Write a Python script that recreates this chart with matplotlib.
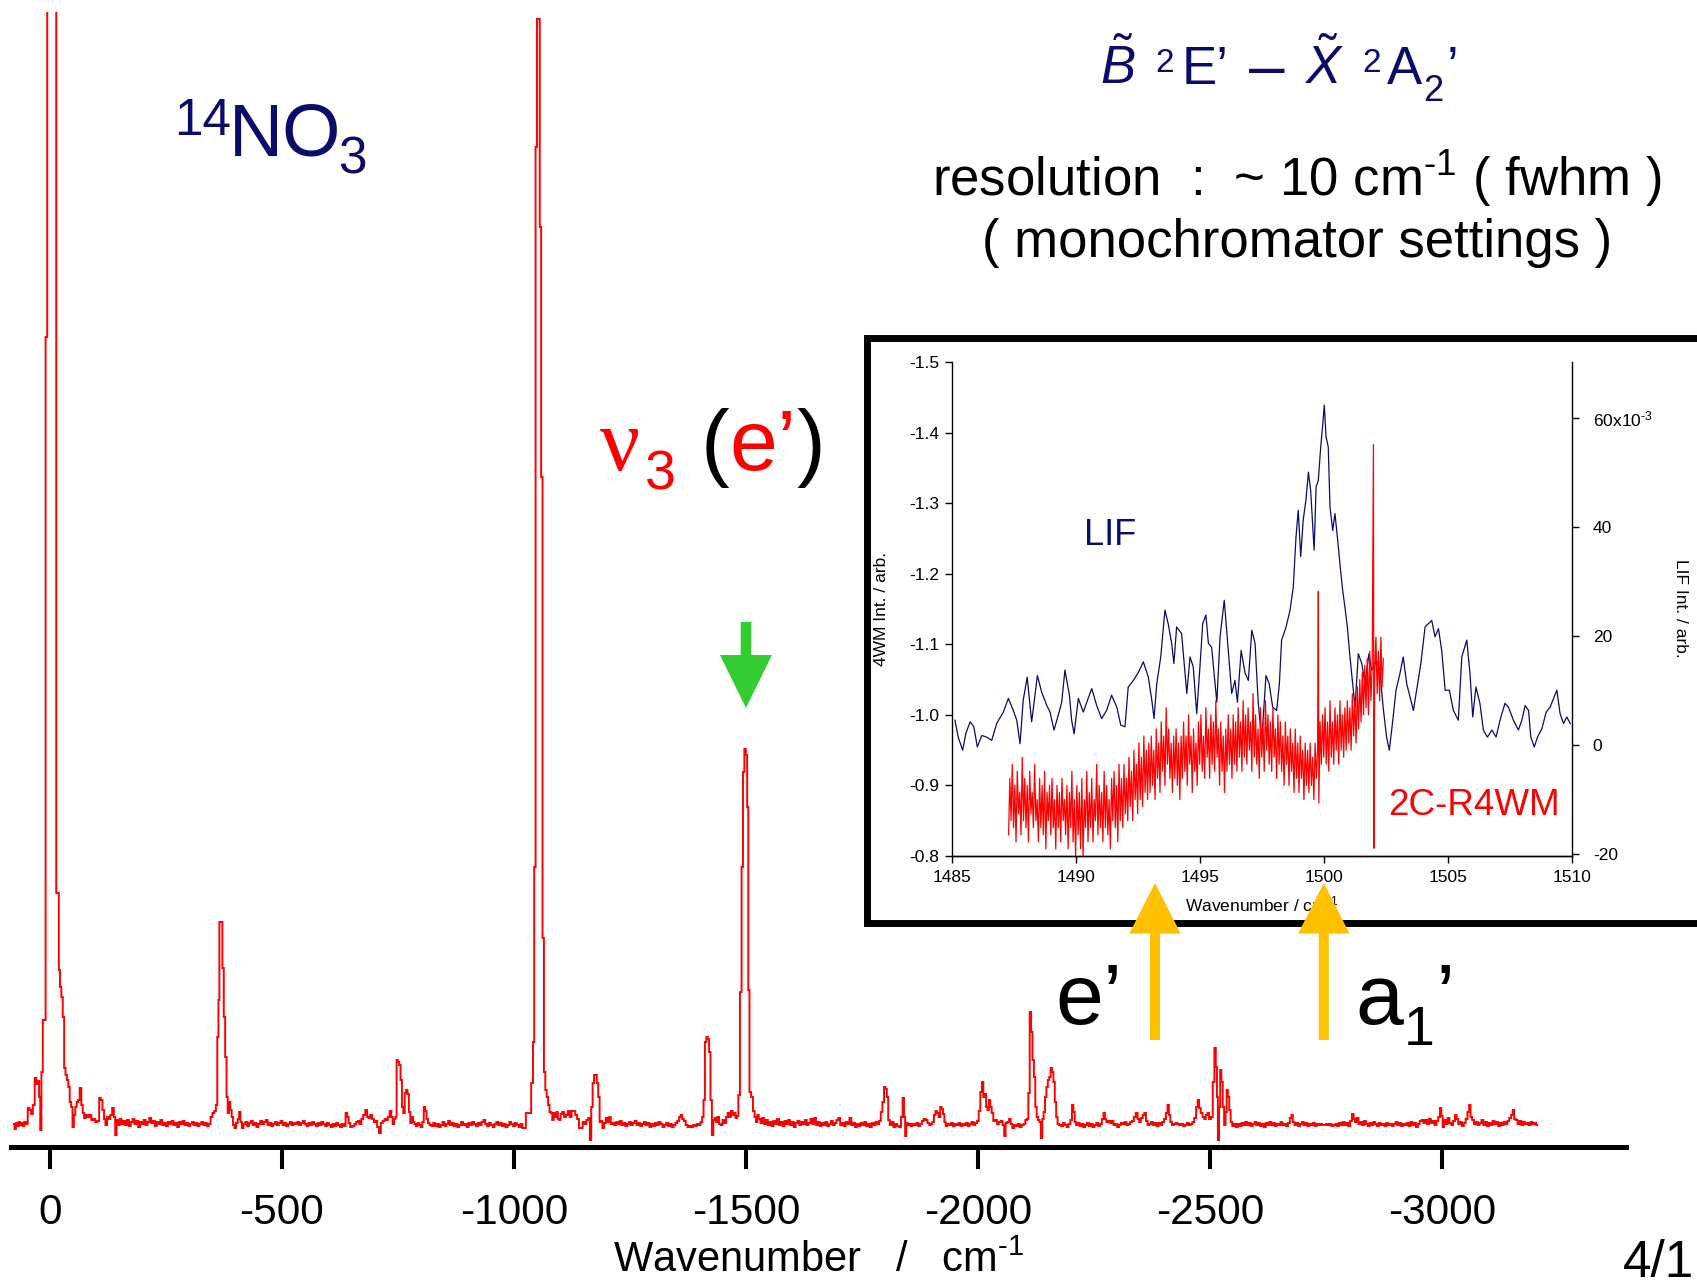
import numpy as np
import matplotlib
matplotlib.use("Agg")
import matplotlib.pyplot as plt
from matplotlib.patches import FancyArrow, Rectangle

plt.rcParams['font.family'] = ['Liberation Sans', 'DejaVu Sans']
plt.rcParams['mathtext.fontset'] = 'custom'
plt.rcParams['mathtext.rm'] = 'Liberation Sans'
plt.rcParams['mathtext.it'] = 'Liberation Sans:italic'
plt.rcParams['mathtext.bf'] = 'Liberation Sans:bold'
plt.rcParams['axes.unicode_minus'] = False

# ---------------- main spectrum (wavenumber, intensity arb.) -------------
main_seg_a = [(78,0.03),(75,-0.02),(72,0.04),(69,0.01),(66,0.05),(63,0.02),(60,0.04),(57,0.01),(54,0.05),(50,0.03),
 (46,0.19),(42,0.17),(39,0.13),(35,0.22),(31,0.49),(28,0.43),(25,0.46),(22,0.30),(20,-0.03),(17,0.55),(14,1.07),
 (11,1.07),(8,7.9),(4,13.0),(-4,13.0),(-12,13.0),(-15,2.34),(-18,2.34),(-20,1.57),(-23,1.40),(-26,1.30),(-29,1.10),
 (-32,0.59),(-35,0.52),(-38,0.47),(-41,0.40),(-44,0.25),(-47,0.20),(-50,0.00),(-53,0.12),(-56,0.20),(-59,0.25),
 (-62,0.27),(-66,0.39),(-69,0.22),(-72,0.14),(-75,0.09),(-79,0.12),(-83,0.10),(-87,0.12),(-91,0.07),(-95,0.08),
 (-100,0.05),(-104,0.06),(-108,0.29),(-111,0.27),(-115,0.17),(-118,0.08),(-121,0.02),(-125,0.10),(-128,0.08),
 (-132,0.12),(-136,0.19),(-139,0.10),(-142,-0.08),(-145,0.07),(-148,0.02),(-152,0.08),(-156,0.03),(-160,0.06)]
main_seg_b = [(-164,0.02),(-168,0.07),(-172,0.01),(-176,0.05),(-180,0.08),(-184,0.03),(-188,0.06),(-192,0.00),
 (-196,0.05),(-200,0.03),(-204,0.07),(-208,0.02),(-212,0.05),(-216,0.09),(-220,0.04),(-224,0.06),(-228,0.01),
 (-232,0.05),(-236,0.03),(-240,0.07),(-244,0.02),(-248,0.04),(-252,0.01),(-256,0.05),(-260,0.03),(-264,0.06),
 (-268,0.02),(-272,0.04),(-276,0.00),(-280,0.05),(-284,0.03),(-288,0.06),(-292,0.02),(-296,0.04),(-300,0.01),
 (-304,0.03),(-308,0.05),(-312,0.02),(-316,0.04),(-320,0.01),(-324,0.03),(-328,0.05),(-332,0.02),(-336,0.04),
 (-340,0.01),(-344,0.03)]
main_seg_c = [(-348,0.10),(-352,0.14),(-356,0.16),(-359,0.22),(-362,0.90),(-364,1.27),(-366,2.05),(-370,2.05),
 (-373,1.59),(-376,1.10),(-379,0.70),(-382,0.30),(-384,0.14),(-387,0.25),(-390,0.17),(-393,0.10),(-396,0.02),
 (-399,-0.01),(-403,0.04),(-406,0.08),(-409,0.15),(-412,0.05),(-415,-0.01),(-419,0.03)]
main_seg_d = [(-423,0.05),(-427,0.01),(-431,0.04),(-435,0.06),(-439,0.02),(-443,0.04),(-447,0.00),(-451,0.03),
 (-455,0.06),(-459,0.03),(-463,0.05),(-467,0.07),(-471,0.02),(-475,0.04),(-479,0.01),(-483,0.03),(-487,0.05),
 (-491,0.02),(-495,0.04),(-499,0.06),(-503,0.02),(-507,0.04),(-511,0.01),(-515,0.03),(-519,0.05),(-523,0.02),
 (-527,0.04),(-531,0.03),(-535,0.05),(-539,0.02),(-543,0.04),(-547,0.06),(-551,0.03),(-555,0.01),(-559,0.04),
 (-563,0.02),(-567,0.05),(-571,0.03),(-575,0.01),(-579,0.04),(-583,0.02),(-587,0.05),(-591,0.03),(-595,0.01),
 (-599,0.04),(-603,0.02),(-607,0.00),(-611,0.03),(-615,0.01),(-619,0.04),(-623,0.02),(-627,0.00),(-631,0.03),
 (-635,0.01)]
main_seg_e = [(-639,0.14),(-642,0.10),(-645,0.04),(-649,0.00),(-654,0.01),(-658,0.03),(-662,0.05),(-665,0.06),
 (-669,0.03),(-673,0.08),(-677,0.12),(-682,0.17),(-685,0.10),(-688,0.09),(-692,0.12),(-696,0.08),(-700,0.05),
 (-703,0.06),(-707,0.00),(-711,-0.06),(-715,0.04),(-719,0.06),(-723,0.08),(-726,0.07),(-730,0.10),(-734,0.16),
 (-737,0.10),(-740,0.03),(-743,0.08),(-746,0.10),(-748,0.67),(-751,0.65),(-754,0.62),(-757,0.47),(-760,0.20),
 (-763,0.14),(-766,0.34),(-769,0.37),(-772,0.33),(-775,0.15),(-778,0.04),(-781,0.10),(-784,0.05),(-787,0.03),
 (-790,0.01),(-794,0.04),(-798,0.02),(-801,0.00),(-804,0.05),(-807,0.20),(-810,0.16),(-813,0.08),(-816,0.04),
 (-820,0.02),(-824,0.01)]
main_seg_f = [(-828,0.04),(-832,0.01),(-836,0.03),(-840,0.00),(-844,0.02),(-848,0.05),(-852,0.01),(-856,0.03),
 (-860,0.06),(-864,0.02),(-868,0.04),(-872,0.01),(-876,0.03),(-880,0.00),(-884,0.02),(-888,0.05),(-892,0.02),
 (-896,0.03),(-900,0.00),(-904,0.04),(-908,0.02),(-912,0.05),(-916,0.03),(-920,0.01),(-924,0.04),(-928,0.02),
 (-932,0.05),(-936,0.07),(-940,0.03),(-944,0.01),(-948,0.04),(-952,0.02),(-956,0.00),(-960,0.03),(-964,0.05),
 (-968,0.02),(-972,0.04),(-976,0.01),(-980,0.03),(-984,0.00),(-988,0.02),(-992,0.05),(-996,0.03),(-1000,0.01),
 (-1004,0.04),(-1008,0.02),(-1012,0.00),(-1016,0.03),(-1020,-0.01),(-1024,-0.01)]
main_seg_g = [(-1027,0.14),(-1031,0.14),(-1036,0.14),(-1038,0.44),(-1040,0.44),(-1042,0.85),(-1045,2.6),
 (-1048,9.8),(-1051,11.08),(-1054,11.08),(-1057,9.0),(-1060,6.5),(-1063,1.89),(-1066,0.55),(-1069,0.37),
 (-1072,0.30),(-1075,0.22),(-1078,0.15),(-1081,0.14),(-1084,0.07),(-1087,0.14),(-1090,0.10),(-1093,0.15),
 (-1096,0.08),(-1099,0.07),(-1102,0.13),(-1106,0.15),(-1110,0.10),(-1114,0.12),(-1118,0.16),(-1122,0.10),
 (-1126,0.16),(-1130,0.16),(-1134,0.12),(-1138,0.08),(-1142,-0.01),(-1146,-0.01),(-1150,0.05),(-1154,0.03),
 (-1158,0.07),(-1162,0.09),(-1165,-0.13),(-1168,0.20),(-1171,0.44),(-1174,0.52),(-1177,0.52),(-1180,0.44),
 (-1183,0.30),(-1186,0.05),(-1189,0.06),(-1192,-0.01),(-1196,0.04),(-1200,0.09),(-1204,0.05),(-1207,0.10),
 (-1210,0.03)]
main_seg_h = [(-1214,0.04),(-1218,0.02),(-1222,0.05),(-1226,0.03),(-1230,0.06),(-1234,0.02),(-1238,0.04),
 (-1242,0.01),(-1246,0.03),(-1250,0.05),(-1254,0.02),(-1258,0.04),(-1262,0.06),(-1266,0.02),(-1270,0.04),
 (-1274,0.01),(-1278,0.03),(-1282,0.05),(-1286,0.02),(-1290,0.04),(-1294,0.00),(-1298,0.03),(-1302,0.01),
 (-1306,0.04),(-1310,0.02),(-1314,0.05),(-1318,0.03),(-1322,0.00),(-1326,0.02),(-1330,0.04),(-1334,0.01),
 (-1338,0.03),(-1342,0.00),(-1346,0.02),(-1350,0.04),(-1354,0.06),(-1358,0.10),(-1361,0.12),(-1364,0.08),
 (-1368,0.06),(-1372,0.02),(-1376,0.00),(-1380,0.01),(-1384,0.00),(-1388,0.02),(-1392,0.01),(-1396,0.03),
 (-1400,0.02),(-1404,0.05)]
main_seg_i = [(-1407,0.10),(-1410,0.27),(-1413,0.85),(-1416,0.90),(-1419,0.88),(-1422,0.75),(-1425,0.27),
 (-1428,-0.08),(-1431,0.07),(-1434,0.09),(-1437,0.05),(-1440,0.10),(-1444,0.03),(-1448,0.02),(-1451,0.07),
 (-1455,0.04),(-1459,0.10),(-1462,0.14),(-1466,0.10),(-1469,0.16),(-1473,0.12),(-1476,0.14),(-1479,0.09),
 (-1482,0.11),(-1485,0.32),(-1489,1.35),(-1492,2.6),(-1495,3.55),(-1498,3.78),(-1501,3.72),(-1504,3.2),
 (-1506,1.37),(-1509,0.35),(-1513,0.30),(-1517,0.16),(-1520,0.10),(-1523,0.05),(-1526,0.12),(-1529,0.08),
 (-1533,0.04)]
main_seg_j = [(-1537,0.09),(-1541,0.03),(-1545,0.07),(-1549,0.02),(-1553,0.05),(-1557,0.01),(-1561,0.06),
 (-1565,0.03),(-1569,0.08),(-1573,0.02),(-1577,0.05),(-1581,0.01),(-1585,0.06),(-1589,0.03),(-1593,0.07),
 (-1597,0.02),(-1601,0.05),(-1605,0.00),(-1609,0.04),(-1613,0.06),(-1617,0.02),(-1621,0.05),(-1625,0.03),
 (-1629,0.07),(-1633,0.02),(-1637,0.04),(-1641,0.08),(-1645,0.03),(-1649,0.09),(-1653,0.02),(-1657,0.05),
 (-1661,0.01),(-1665,0.04),(-1669,0.02),(-1673,0.05),(-1677,0.01),(-1681,0.03),(-1685,0.06),(-1689,0.02),
 (-1693,0.04),(-1697,0.07),(-1701,0.09),(-1705,0.02),(-1709,0.04),(-1713,0.01),(-1717,0.05),(-1721,0.03),
 (-1725,0.09),(-1729,0.02),(-1733,0.04),(-1737,0.00),(-1741,0.03),(-1745,0.01),(-1749,0.04),(-1753,0.02),
 (-1757,0.05),(-1761,0.01),(-1765,0.03),(-1769,0.00),(-1773,0.04),(-1777,0.02),(-1781,0.05),(-1785,0.03),
 (-1789,0.06)]
main_seg_k = [(-1792,0.15),(-1796,0.25),(-1799,0.40),(-1802,0.38),(-1805,0.30),(-1808,0.07),(-1812,0.02),
 (-1816,0.05),(-1820,0.00),(-1824,0.03),(-1828,0.01),(-1832,0.00),(-1836,0.10),(-1839,0.29),(-1842,0.10),
 (-1844,-0.09),(-1847,0.04),(-1850,0.02),(-1853,0.03),(-1857,0.01),(-1861,0.03),(-1865,0.02),(-1869,0.04),
 (-1873,0.01),(-1877,0.03),(-1881,0.06),(-1885,0.08),(-1889,0.07),(-1893,0.04),(-1897,0.02),(-1900,0.03),
 (-1903,0.05),(-1907,0.12),(-1910,0.16),(-1913,0.14),(-1917,0.10),(-1920,0.20),(-1923,0.18),(-1926,0.13),
 (-1929,0.05),(-1932,0.01),(-1936,0.03),(-1940,0.02),(-1944,0.04),(-1948,0.01),(-1952,0.03),(-1956,0.02),
 (-1960,0.04),(-1964,0.01),(-1968,0.03),(-1972,0.02),(-1976,0.04),(-1980,0.01),(-1984,0.03),(-1988,0.05),
 (-1992,0.02),(-1996,0.04),(-2000,0.06),(-2003,0.16),(-2007,0.35),(-2010,0.45),(-2013,0.30),(-2016,0.33),
 (-2019,0.20),(-2022,0.17),(-2025,0.27),(-2028,0.20),(-2031,0.14),(-2035,0.06),(-2039,0.07),(-2043,0.03),
 (-2047,0.05),(-2051,0.06),(-2055,0.02),(-2058,-0.09),(-2061,0.04),(-2065,0.05),(-2069,0.08),(-2072,0.03),
 (-2076,-0.01),(-2080,0.02),(-2084,0.01),(-2088,0.03),(-2092,0.00),(-2096,0.02),(-2100,0.03),(-2104,0.07),
 (-2107,0.08),(-2110,0.34),(-2113,1.15),(-2116,0.95),(-2119,0.67),(-2122,0.50),(-2125,0.20),(-2128,0.10),
 (-2131,0.07),(-2134,0.05),(-2137,-0.11),(-2140,0.08),(-2143,0.15),(-2146,0.30),(-2149,0.40),(-2152,0.47),
 (-2155,0.50),(-2158,0.59),(-2161,0.55),(-2164,0.45),(-2167,0.25),(-2170,0.10),(-2173,0.03),(-2177,0.02),
 (-2181,0.01),(-2185,0.04),(-2189,0.02),(-2193,0.00),(-2197,0.03),(-2201,0.07),(-2204,0.22),(-2207,0.15),
 (-2210,0.05),(-2213,0.02),(-2217,0.04),(-2221,0.01),(-2225,0.03),(-2229,0.00),(-2233,0.02),(-2237,0.04),
 (-2241,0.01),(-2245,0.03),(-2249,0.00)]
main_seg_l = [(-2253,0.02),(-2257,0.04),(-2261,0.01),(-2265,0.03),(-2269,0.08),(-2272,0.14),(-2275,0.08),
 (-2278,0.05),(-2282,0.06),(-2286,0.04),(-2290,0.06),(-2294,0.02),(-2298,0.03),(-2302,0.00),(-2306,0.02),
 (-2310,0.04),(-2314,0.03),(-2318,0.05),(-2322,0.02),(-2326,0.03),(-2330,0.05),(-2334,0.06),(-2338,0.10),
 (-2342,0.14),(-2346,0.08),(-2349,0.05),(-2353,0.09),(-2357,0.12),(-2360,0.14),(-2364,0.06),(-2367,0.02),
 (-2371,0.03),(-2375,0.05),(-2379,0.02),(-2383,0.04),(-2387,0.01),(-2391,0.04),(-2395,0.02),(-2399,0.05),
 (-2403,0.08),(-2407,0.14),(-2410,0.22),(-2413,0.12),(-2416,0.05),(-2420,0.02),(-2424,0.03),(-2428,0.04),
 (-2432,0.03),(-2436,0.02),(-2440,0.03),(-2444,0.01),(-2448,0.02),(-2452,0.04),(-2456,0.02),(-2460,0.03),
 (-2464,0.05),(-2468,0.09),(-2472,0.20),(-2475,0.27),(-2478,0.19),(-2482,0.14),(-2486,0.10),(-2489,0.08),
 (-2493,0.12),(-2496,0.14),(-2500,0.08),(-2504,0.10),(-2508,0.45),(-2511,0.79),(-2514,0.60),(-2516,0.30),
 (-2518,-0.13),(-2521,0.20),(-2523,0.57),(-2526,0.45),(-2529,0.20),(-2532,0.02),(-2535,0.15),(-2537,0.37),
 (-2540,0.30),(-2543,0.17),(-2546,0.05),(-2550,0.01),(-2554,0.03),(-2558,0.00)]
main_seg_m = [(-2562,0.03),(-2566,0.01),(-2570,0.04),(-2574,0.02),(-2578,0.05),(-2582,0.02),(-2586,0.04),
 (-2590,0.01),(-2594,0.03),(-2598,0.05),(-2602,0.02),(-2606,0.04),(-2610,0.01),(-2614,0.03),(-2618,0.00),
 (-2622,0.04),(-2626,0.02),(-2630,0.05),(-2634,0.02),(-2638,0.04),(-2642,0.01),(-2646,0.03),(-2650,0.02),
 (-2654,0.05),(-2658,0.02),(-2662,0.03),(-2666,0.01),(-2670,0.04),(-2674,0.09),(-2677,0.12),(-2680,0.05),
 (-2684,0.02),(-2688,0.04),(-2692,0.01),(-2696,0.03),(-2700,0.05),(-2704,0.02),(-2708,0.04),(-2712,0.01),
 (-2716,0.03),(-2720,0.02),(-2724,0.04),(-2728,0.01),(-2732,0.03),(-2736,0.02),(-2740,0.03),(-2744,0.02),
 (-2748,0.02),(-2752,0.03),(-2756,0.02),(-2760,0.03),(-2764,0.01),(-2768,0.02),(-2772,0.03),(-2776,0.01),
 (-2780,0.04),(-2784,0.02),(-2788,0.05),(-2792,0.02),(-2796,0.04),(-2800,0.01),(-2804,0.06),(-2808,0.13),
 (-2811,0.08),(-2814,0.05),(-2818,0.09),(-2822,0.03),(-2826,0.05),(-2830,0.02),(-2834,0.06),(-2838,0.03),
 (-2842,0.01),(-2846,0.04),(-2850,0.02),(-2854,0.05),(-2858,0.03),(-2862,0.01),(-2866,0.04),(-2870,0.02),
 (-2874,0.03),(-2878,0.01),(-2882,0.04),(-2886,0.02),(-2890,0.03),(-2894,0.01),(-2898,0.03),(-2902,0.05),
 (-2906,0.02),(-2910,0.04),(-2914,0.01),(-2918,0.03),(-2922,0.02),(-2926,0.04),(-2930,0.01),(-2934,0.05),
 (-2938,0.02),(-2942,0.04),(-2946,0.00),(-2950,0.03),(-2954,0.06),(-2958,0.07),(-2962,0.04),(-2966,0.07),
 (-2970,0.03),(-2974,0.08),(-2978,0.04),(-2982,0.06),(-2986,0.02),(-2990,0.06),(-2994,0.10),(-2997,0.19),
 (-3000,0.11),(-3003,0.00),(-3006,0.07),(-3010,0.03),(-3014,0.09),(-3018,0.04),(-3022,0.02),(-3026,0.06),
 (-3030,0.12),(-3033,0.08),(-3037,0.03),(-3041,0.05),(-3045,0.01),(-3049,0.04),(-3053,0.08),(-3057,0.15),
 (-3060,0.22),(-3063,0.10),(-3067,0.07),(-3071,0.03),(-3075,0.05),(-3079,0.02),(-3083,0.04),(-3087,0.07),
 (-3091,0.02),(-3095,0.05),(-3099,0.01),(-3103,0.04),(-3107,0.02),(-3111,0.06),(-3115,0.03),(-3119,0.05),
 (-3123,0.01),(-3127,0.04),(-3131,0.02),(-3135,0.05),(-3139,0.03),(-3143,0.06),(-3147,0.09),(-3151,0.12),
 (-3154,0.17),(-3157,0.08),(-3161,0.07),(-3165,0.03),(-3169,0.06),(-3173,0.02),(-3177,0.05),(-3181,0.03),
 (-3185,0.04),(-3189,0.02),(-3193,0.05),(-3197,0.03),(-3201,0.04),(-3205,0.02)]

main_ticks = [0, -500, -1000, -1500, -2000, -2500, -3000]
main_tick_labels = ["0", "-500", "-1000", "-1500", "-2000", "-2500", "-3000"]

# ---------------- inset: LIF (right axis, x1e-3) ----------------
lif_seg_a = [(1485.14,4.6),(1485.27,1.5),(1485.45,-0.9),(1485.58,2.2),(1485.75,4.3),(1485.90,3.4),(1486.04,-0.3),
 (1486.22,1.8),(1486.42,1.5),(1486.62,0.9),(1486.82,4.0),(1487.09,6.1),(1487.29,8.6),(1487.49,6.4),(1487.63,4.6),
 (1487.76,0.3),(1487.89,8.3),(1488.05,12.5),(1488.23,4.3),(1488.46,12.8),(1488.63,9.8),(1488.84,7.3),(1488.97,6.1),
 (1489.13,2.8),(1489.30,5.5),(1489.44,7.9),(1489.57,13.8),(1489.75,9.2),(1489.84,4.6),(1489.94,2.1),(1490.11,8.6),
 (1490.31,6.1),(1490.45,7.9),(1490.65,10.4),(1490.85,7.3)]
lif_seg_b = [(1491.05,4.9),(1491.25,6.4),(1491.45,9.2),(1491.66,7.0),(1491.82,3.7),(1491.99,3.4),(1492.12,10.7),
 (1492.33,11.9),(1492.53,13.4),(1492.73,15.3),(1492.93,12.5),(1493.07,8.3),(1493.16,4.9),(1493.27,11.3),
 (1493.43,16.2),(1493.60,24.8),(1493.73,22.3),(1493.87,18.7),(1493.96,15.0),(1494.07,21.7),(1494.27,20.5),
 (1494.34,16.8),(1494.48,9.5),(1494.61,16.2),(1494.74,14.4),(1494.88,5.8),(1495.01,14.4),(1495.12,22.3),
 (1495.25,23.9),(1495.35,18.7),(1495.48,18.0),(1495.58,13.2),(1495.69,7.9),(1495.82,19.9),(1495.99,26.6),
 (1496.13,18.7),(1496.29,9.5),(1496.42,11.9),(1496.52,7.9),(1496.67,17.4),(1496.83,13.2),(1496.96,11.9)]
lif_seg_c = [(1497.10,21.1),(1497.23,18.7),(1497.36,7.7),(1497.50,0.9),(1497.67,12.8),(1497.80,11.3),(1497.94,7.0),
 (1498.10,6.4),(1498.21,11.3),(1498.30,19.3),(1498.48,21.7),(1498.64,24.8),(1498.77,29.0),(1498.88,38.2),
 (1498.97,43.1),(1499.07,34.6),(1499.17,41.3),(1499.28,45.0),(1499.38,50.1),(1499.47,46.8),(1499.61,35.8),
 (1499.69,47.4),(1499.78,48.6),(1499.87,54.4),(1499.96,59.0),(1500.02,62.4),(1500.09,56.6),(1500.18,54.7),
 (1500.25,43.7),(1500.36,39.4),(1500.45,42.5),(1500.56,37.6),(1500.65,33.3),(1500.76,28.4),(1500.85,25.4),
 (1500.95,21.7),(1501.03,17.4),(1501.12,13.2),(1501.26,7.0),(1501.39,16.8),(1501.53,15.0),(1501.66,11.3),
 (1501.82,16.8),(1501.93,13.8),(1502.02,14.4),(1502.12,15.6),(1502.26,13.8),(1502.39,7.0)]
lif_seg_d = [(1502.53,1.5),(1502.64,-0.9),(1502.78,4.6),(1502.91,10.1),(1503.07,13.2),(1503.20,16.2),(1503.34,11.3),
 (1503.47,8.9),(1503.61,6.4),(1503.74,10.1),(1503.91,15.0),(1504.08,21.7),(1504.21,22.3),(1504.35,22.9),
 (1504.48,19.9),(1504.62,21.4),(1504.75,17.4),(1504.89,10.1),(1505.06,10.1),(1505.22,6.4),(1505.42,4.6),
 (1505.56,16.2),(1505.76,19.3),(1505.89,13.2),(1506.00,5.2),(1506.13,10.7),(1506.29,7.7),(1506.43,2.8),
 (1506.59,1.5),(1506.77,2.8),(1506.94,1.5),(1507.10,4.6),(1507.30,7.7),(1507.44,7.0),(1507.64,4.6),(1507.84,2.8),
 (1507.98,4.6),(1508.11,7.3),(1508.25,6.4),(1508.34,1.5),(1508.48,-0.3),(1508.61,1.5),(1508.79,3.1),(1508.96,6.1),
 (1509.12,7.0),(1509.28,8.9),(1509.39,10.1),(1509.52,5.8),(1509.66,4.0),(1509.79,5.2),(1509.93,4.0)]

# ---------------- inset: 2C-R4WM (left axis) ----------------
fwm_seg_a = [(1487.30,-0.83),(1487.35,-0.91),(1487.40,-0.85),(1487.45,-0.93),(1487.50,-0.84),(1487.55,-0.90),
 (1487.60,-0.82),(1487.65,-0.92),(1487.70,-0.86),(1487.75,-0.89),(1487.80,-0.83),(1487.85,-0.94),(1487.90,-0.85),
 (1487.95,-0.91),(1488.00,-0.84),(1488.05,-0.90),(1488.10,-0.82),(1488.15,-0.92),(1488.20,-0.86),(1488.25,-0.89),
 (1488.30,-0.84),(1488.35,-0.93),(1488.40,-0.85),(1488.45,-0.88),(1488.50,-0.82),(1488.55,-0.91),(1488.60,-0.84),
 (1488.65,-0.90),(1488.70,-0.83),(1488.75,-0.92),(1488.80,-0.81),(1488.85,-0.89),(1488.90,-0.85),(1488.95,-0.90),
 (1489.00,-0.83),(1489.05,-0.91),(1489.10,-0.84),(1489.15,-0.88),(1489.20,-0.81),(1489.25,-0.90),(1489.30,-0.84),
 (1489.35,-0.89),(1489.40,-0.82),(1489.45,-0.91),(1489.50,-0.85),(1489.55,-0.88),(1489.60,-0.83),(1489.65,-0.90),
 (1489.70,-0.81),(1489.75,-0.89),(1489.80,-0.84),(1489.85,-0.92),(1489.90,-0.82),(1489.95,-0.88),(1490.00,-0.80),
 (1490.05,-0.90),(1490.10,-0.83),(1490.15,-0.89),(1490.20,-0.81),(1490.25,-0.91),(1490.30,-0.80),(1490.35,-0.88),
 (1490.40,-0.84),(1490.45,-0.92),(1490.50,-0.82),(1490.55,-0.89),(1490.60,-0.84),(1490.65,-0.91),(1490.70,-0.82),
 (1490.75,-0.88),(1490.80,-0.85),(1490.85,-0.93),(1490.90,-0.83),(1490.95,-0.90),(1491.00,-0.84),(1491.05,-0.89),
 (1491.10,-0.82),(1491.15,-0.92),(1491.20,-0.84),(1491.25,-0.90),(1491.30,-0.83),(1491.35,-0.88),(1491.40,-0.81),
 (1491.45,-0.91),(1491.50,-0.85),(1491.55,-0.92),(1491.60,-0.84),(1491.65,-0.90),(1491.70,-0.82),(1491.75,-0.93),
 (1491.80,-0.85)]
fwm_seg_b = [(1491.85,-0.91),(1491.90,-0.84),(1491.95,-0.93),(1492.00,-0.86),(1492.05,-0.91),(1492.10,-0.85),
 (1492.15,-0.94),(1492.20,-0.87),(1492.25,-0.92),(1492.30,-0.85),(1492.35,-0.95),(1492.40,-0.88),(1492.45,-0.93),
 (1492.50,-0.86),(1492.55,-0.96),(1492.60,-0.88),(1492.65,-0.94),(1492.70,-0.87),(1492.75,-0.97),(1492.80,-0.89),
 (1492.85,-0.95),(1492.90,-0.88),(1492.95,-0.96),(1493.00,-0.89),(1493.05,-0.97),(1493.10,-0.90),(1493.15,-0.95),
 (1493.20,-0.88),(1493.25,-0.98),(1493.30,-0.91),(1493.35,-0.96),(1493.40,-0.89),(1493.45,-0.99),(1493.50,-0.92),
 (1493.55,-0.97),(1493.60,-0.90),(1493.65,-1.01),(1493.70,-0.93),(1493.75,-0.98),(1493.80,-0.91),(1493.85,-0.96),
 (1493.90,-0.89),(1493.95,-0.97),(1494.00,-0.91),(1494.05,-0.98),(1494.10,-0.90),(1494.15,-0.96),(1494.20,-0.88),
 (1494.25,-0.97),(1494.30,-0.91),(1494.35,-0.99),(1494.40,-0.92),(1494.45,-0.97),(1494.50,-0.90),(1494.55,-1.00),
 (1494.60,-0.93),(1494.65,-0.97),(1494.70,-0.89),(1494.75,-0.98),(1494.80,-0.92),(1494.85,-0.96),(1494.90,-0.90),
 (1494.95,-0.99),(1495.00,-0.93),(1495.05,-1.00),(1495.10,-0.92),(1495.15,-0.97),(1495.20,-0.91),(1495.25,-1.01),
 (1495.30,-0.94),(1495.35,-0.98),(1495.40,-0.91),(1495.45,-1.00),(1495.50,-0.93),(1495.55,-0.99),(1495.60,-0.92),
 (1495.65,-1.02),(1495.70,-0.94),(1495.75,-0.98),(1495.80,-0.90),(1495.85,-0.99),(1495.90,-0.92),(1495.95,-0.97),
 (1496.00,-0.89),(1496.05,-0.98),(1496.10,-0.92),(1496.15,-1.00),(1496.20,-0.93),(1496.25,-0.98),(1496.30,-0.91)]
fwm_seg_c = [(1496.35,-1.00),(1496.40,-0.93),(1496.45,-0.99),(1496.50,-0.92),(1496.55,-1.01),(1496.60,-0.94),
 (1496.65,-0.99),(1496.70,-0.92),(1496.75,-1.02),(1496.80,-0.94),(1496.85,-1.00),(1496.90,-0.93),(1496.95,-1.01),
 (1497.00,-0.95),(1497.05,-0.99),(1497.10,-0.92),(1497.15,-1.03),(1497.20,-0.94),(1497.25,-1.00),(1497.30,-0.93),
 (1497.35,-0.98),(1497.40,-0.91),(1497.45,-1.01),(1497.50,-0.94),(1497.55,-0.99),(1497.60,-0.92),(1497.65,-1.02),
 (1497.70,-0.95),(1497.75,-1.00),(1497.80,-0.93),(1497.85,-0.99),(1497.90,-0.92),(1497.95,-1.01),(1498.00,-0.94),
 (1498.05,-0.98),(1498.10,-0.91),(1498.15,-1.00),(1498.20,-0.93),(1498.25,-0.99),(1498.30,-0.92),(1498.35,-0.97),
 (1498.40,-0.90),(1498.45,-0.99),(1498.50,-0.93),(1498.55,-0.97),(1498.60,-0.90),(1498.65,-0.98),(1498.70,-0.92),
 (1498.75,-0.96),(1498.80,-0.89),(1498.85,-0.98),(1498.90,-0.91),(1498.95,-0.96),(1499.00,-0.89),(1499.05,-0.97),
 (1499.10,-0.91),(1499.15,-0.95),(1499.20,-0.88),(1499.25,-0.96),(1499.30,-0.90),(1499.35,-0.95),(1499.40,-0.89),
 (1499.45,-0.96),(1499.50,-0.90),(1499.55,-0.94),(1499.60,-0.88),(1499.65,-0.96),(1499.70,-0.91),(1499.75,-0.95),
 (1499.78,-1.175),(1499.80,-0.875)]
fwm_seg_d = [(1499.85,-0.99),(1499.90,-0.93),(1499.95,-1.00),(1500.00,-0.94),(1500.05,-1.01),(1500.10,-0.93),
 (1500.15,-0.99),(1500.20,-0.92),(1500.25,-1.02),(1500.30,-0.94),(1500.35,-0.99),(1500.40,-0.93),(1500.45,-1.01),
 (1500.50,-0.95),(1500.55,-1.00),(1500.60,-0.93),(1500.65,-1.02),(1500.70,-0.95),(1500.75,-1.00),(1500.80,-0.94),
 (1500.85,-1.01),(1500.90,-0.95),(1500.95,-1.02),(1501.00,-0.96),(1501.05,-1.01),(1501.10,-0.95),(1501.15,-1.03),
 (1501.20,-0.97),(1501.25,-1.02),(1501.30,-0.96),(1501.35,-1.04),(1501.40,-0.98),(1501.45,-1.05),(1501.50,-0.99),
 (1501.55,-1.06),(1501.60,-1.00),(1501.65,-1.07),(1501.70,-1.01),(1501.75,-1.08),(1501.80,-1.00),(1501.85,-1.09),
 (1501.90,-1.02),(1501.95,-1.07),(1502.00,-1.383),(1502.02,-0.811),(1502.05,-1.06),(1502.10,-1.11),(1502.15,-1.03),
 (1502.20,-1.09),(1502.25,-1.02),(1502.30,-1.11),(1502.35,-1.04),(1502.40,-1.08)]

inset_xticks = [1485, 1490, 1495, 1500, 1505, 1510]
inset_left_ticks = [-1.5, -1.4, -1.3, -1.2, -1.1, -1.0, -0.9, -0.8]
inset_right_ticks = [-20, 0, 20, 40, 60]
HY = "\u2010"  # typographic hyphen for superscripts
inset_right_labels = ["-20", "0", "20", "40", "60x10$^{\\mathregular{" + HY + "3}}$"]

# annotation anchor positions (data units)
nu3_wn = -1500          # main spectrum
e_prime_wn = 1493.2     # inset
a1_prime_wn = 1500.0    # inset

NAVY = '#0b0b6b'
RED = '#ff0000'

# ---------------- figure ----------------
W, H = 1697, 1280
fig = plt.figure(figsize=(W / 100, H / 100), dpi=100)


def fx(px):
    return px / W


def fy(py):
    return 1 - py / H


main = main_seg_a + main_seg_b + main_seg_c + main_seg_d + main_seg_e + main_seg_f + main_seg_g + \
    main_seg_h + main_seg_i + main_seg_j + main_seg_k + main_seg_l + main_seg_m
main_wn = np.array([p[0] for p in main], dtype=float)
main_int = np.array([p[1] for p in main], dtype=float)

ax = fig.add_axes([fx(11), fy(1147), fx(1626) - fx(11), fy(12) - fy(1147)])
ax.set_zorder(0)
ax.patch.set_visible(False)
ax.plot(main_wn, main_int, color=RED, lw=1.4, drawstyle='steps-mid', solid_joinstyle='miter')
ax.set_xlim(84.05, -3396.6)
ax.set_ylim(-0.2, 11.15)
for s in ['left', 'top', 'right']:
    ax.spines[s].set_visible(False)
ax.spines['bottom'].set_linewidth(3.6)
ax.set_yticks([])
ax.set_xticks(main_ticks)
ax.set_xticklabels(main_tick_labels)
ax.tick_params(axis='x', direction='out', length=16, width=2.9, pad=17, labelsize=30.5)

# inset frame
frame = Rectangle((fx(866.7), fy(923.3)), fx(1720) - fx(866.7), fy(338.5) - fy(923.3),
                  transform=fig.transFigure, facecolor='white', edgecolor='black', lw=5,
                  zorder=1, clip_on=False)
fig.add_artist(frame)

# inset axes
pos = [fx(951.5), fy(856), fx(1572) - fx(951.5), fy(362) - fy(856)]
axin = fig.add_axes(pos)
axr = axin.twinx()
axin.set_zorder(4)
axr.set_zorder(3)
axin.patch.set_visible(False)
axr.patch.set_visible(False)

lif = lif_seg_a + lif_seg_b + lif_seg_c + lif_seg_d
axr.plot([p[0] for p in lif], [p[1] for p in lif], color=NAVY, lw=0.9)
fwm = fwm_seg_a + fwm_seg_b + fwm_seg_c + fwm_seg_d
axin.plot([p[0] for p in fwm], [p[1] for p in fwm], color=RED, lw=0.9)

axin.set_xlim(1485, 1510)
axin.set_ylim(-0.8, -1.5)
axr.set_ylim(-20.3, 70.3)
axin.set_xticks(inset_xticks)
axin.set_xticklabels([str(v) for v in inset_xticks])
axin.set_yticks(inset_left_ticks)
axin.set_yticklabels(['%.1f' % v for v in inset_left_ticks])
axr.set_yticks(inset_right_ticks)
axr.set_yticklabels(inset_right_labels)
for a in (axin, axr):
    a.spines['top'].set_visible(False)
    for s in a.spines.values():
        s.set_linewidth(1.0)
axin.spines['right'].set_visible(False)
axr.spines['left'].set_visible(False)
axin.tick_params(axis='both', direction='out', length=5, width=1, labelsize=12.5)
axin.tick_params(axis='y', pad=4)
axin.tick_params(axis='x', pad=5)
axr.tick_params(axis='y', direction='out', length=5, width=1, labelsize=12.5, pad=10)

# overlay for texts and arrows (pixel coordinates)
ov = fig.add_axes([0, 0, 1, 1])
ov.set_zorder(10)
ov.set_xlim(0, W)
ov.set_ylim(H, 0)
ov.axis('off')
ov.patch.set_visible(False)


def T(x, y, s, size, color='black', ha='left', va='baseline', family=None, **kw):
    kws = dict(fontsize=size, color=color, ha=ha, va=va)
    if family is not None:
        kws['family'] = family
    kws.update(kw)
    return ov.text(x, y, s, **kws)


# 14NO3
T(174, 135, "14", 37, NAVY)
T(229, 156, "NO", 54, NAVY)
T(338, 173, "3", 37, NAVY)

# B~ 2E' - X~ 2A2'
T(1100, 84, r"$\tilde{B}$", 38, NAVY)
T(1155, 72, "2", 24, NAVY)
T(1182, 84, "E’", 38, NAVY)
T(1249, 87, "–", 46, NAVY)
T(1304, 84, r"$\tilde{X}$", 38, NAVY)
T(1362, 72, "2", 24, NAVY)
T(1387, 84, "A", 38, NAVY)
T(1423, 101, "2", 26, NAVY)
T(1447, 84, "’", 38, NAVY)

T(1297, 196, "resolution  :  ~ 10 cm$^{\\mathregular{" + HY + "1}}$ ( fwhm )", 38, ha='center')
T(1297, 257, "( monochromator settings )", 38, ha='center')

# nu3 (e')
T(600, 470, "ν", 64, RED, family=['Liberation Serif', 'DejaVu Serif'])
T(645, 490, "3", 40, RED)
T(701, 470, "(", 62)
T(729, 470, "e’", 62, RED)
T(796, 470, ")", 62)

# e' and a1'
T(1055, 1024, "e’", 62)
T(1355, 1024, "a", 62)
T(1404, 1045, "1", 40)
T(1436, 1024, "’", 62)

T(1623, 1277, "4/1", 37)

# axis labels
T(818, 1272, "Wavenumber   /   cm$^{\\mathregular{" + HY + "1}}$", 30, ha='center')
T(1262, 904, "Wavenumber / cm$^{\\mathregular{" + HY + "1}}$", 12.5, ha='center', va='center')
T(882, 609, "4WM Int. / arb.", 12.5, ha='center', va='center', rotation=90)
T(1681, 608, "LIF Int. / arb.", 12.5, ha='center', va='center', rotation=270)
T(1110, 545, "LIF", 26, NAVY, ha='center')
T(1388, 815, "2C-R4WM", 26.5, RED)


# arrows
def disp_x(axis, xval):
    return axis.transData.transform((xval, 0))[0]


gx = disp_x(ax, nu3_wn)
ov.add_patch(FancyArrow(gx, 622, 0, 86, width=10.6, head_width=52, head_length=53,
                        length_includes_head=True, color='#33cc33', lw=0, zorder=20))
for wn in (e_prime_wn, a1_prime_wn):
    yx = disp_x(axin, wn)
    ov.add_patch(FancyArrow(yx, 1040, 0, -157, width=10, head_width=51.4, head_length=50.6,
                            length_includes_head=True, color='#ffc000', lw=0, zorder=20))

fig.savefig("out.png", dpi=100)
